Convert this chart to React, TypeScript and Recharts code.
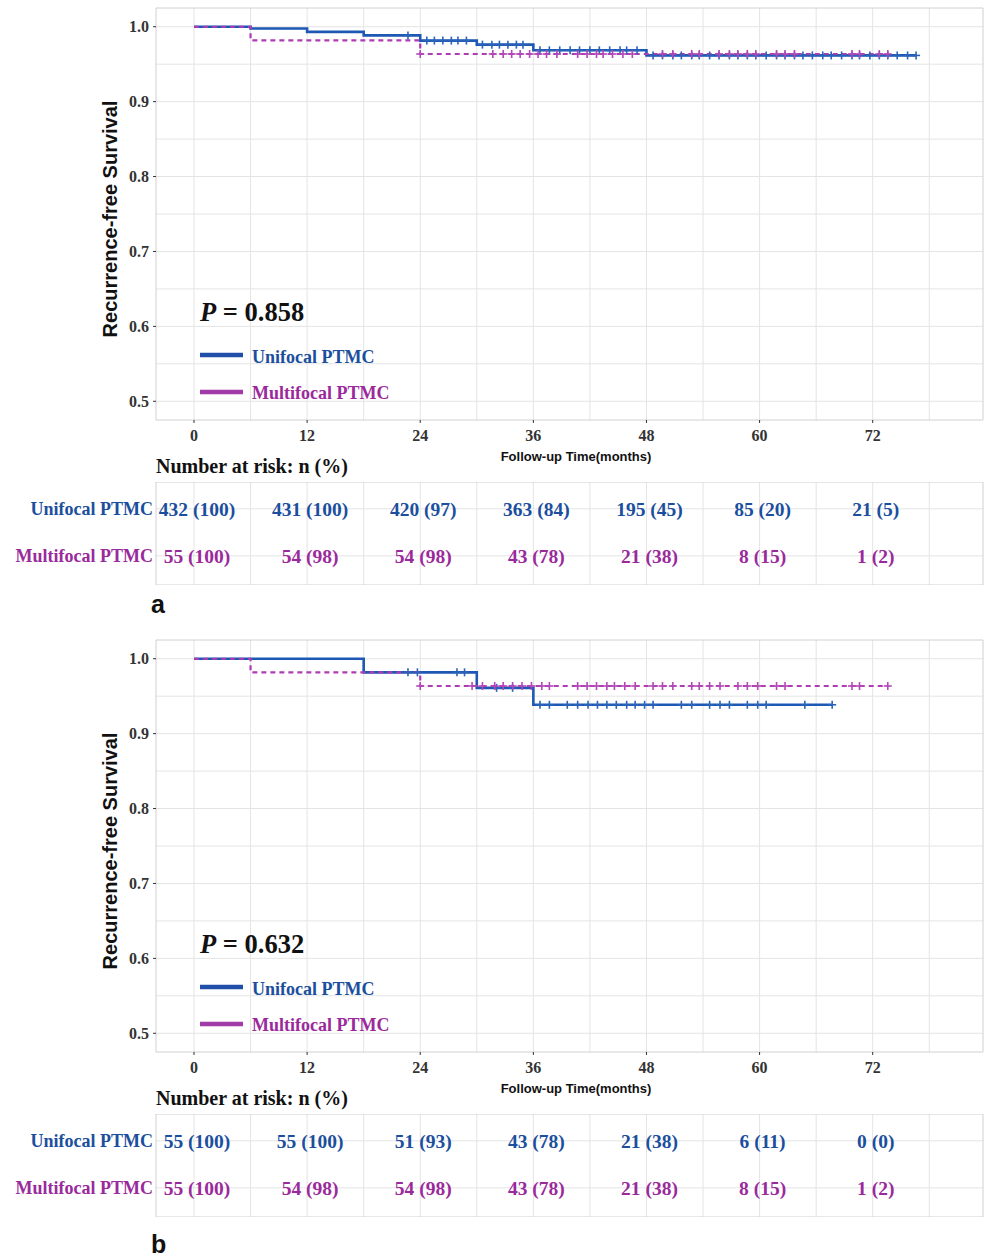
import React from "react";
import {
  ComposedChart,
  Line,
  Scatter,
  XAxis,
  YAxis,
  CartesianGrid,
  ReferenceArea,
} from "recharts";

// ---------- shared ----------
const monthTicks = [0, 12, 24, 36, 48, 60, 72];
const monthGrid = [0, 6, 12, 18, 24, 30, 36, 42, 48, 54, 60, 66, 72, 78];
const survTicks = [0.5, 0.6, 0.7, 0.8, 0.9, 1.0];
const survGrid = [0.5, 0.55, 0.6, 0.65, 0.7, 0.75, 0.8, 0.85, 0.9, 0.95, 1.0];
const groupNames = ["Unifocal PTMC", "Multifocal PTMC"];

// ---------- panel a ----------
const aUniTimes = [0, 6, 12, 18, 24, 30, 36, 48, 76.6];
const aUniSurv = [1, 0.9977, 0.9931, 0.9884, 0.9815, 0.9761, 0.9685, 0.9617, 0.9617];
const aUniCensor = [
  22.7, 24.7, 25.5, 26.4, 27.3, 28.0, 28.9, 30.6, 31.6, 32.4, 33.3, 34.2, 34.9,
  36.7, 37.7, 38.8, 39.9, 40.9, 42.0, 43.0, 44.1, 45.2, 45.9, 47.0,
  48.7, 49.7, 50.8, 51.7, 52.8, 53.6, 54.7, 55.7, 56.8, 57.7, 58.7, 59.6, 60.7,
  61.8, 62.7, 63.7, 64.6, 65.6, 66.7, 67.6, 68.7, 69.8, 70.6, 71.7, 72.7, 73.6,
  74.6, 75.7, 76.6,
];
const aMultiTimes = [0, 6, 24, 73.6];
const aMultiSurv = [1, 0.9818, 0.9636, 0.9636];
const aMultiCensor = [
  24.0, 31.7, 32.8, 33.7, 34.6, 35.6, 36.5, 37.4, 38.5, 40.7, 41.7, 42.7, 43.4,
  44.4, 45.5, 46.5, 49.7, 50.8, 52.8, 53.6, 55.7, 56.8, 57.7, 58.7, 59.6, 61.8,
  62.7, 63.7, 69.8, 70.6, 72.7, 73.6,
];
const aRiskUni = ["432 (100)", "431 (100)", "420 (97)", "363 (84)", "195 (45)", "85 (20)", "21 (5)"];
const aRiskMulti = ["55 (100)", "54 (98)", "54 (98)", "43 (78)", "21 (38)", "8 (15)", "1 (2)"];
const aPValue = "0.858";

// ---------- panel b ----------
const bUniTimes = [0, 18, 30, 36, 67.7];
const bUniSurv = [1, 0.9818, 0.9611, 0.9385, 0.9385];
const bUniCensor = [
  22.7, 23.7, 27.9, 28.7, 32.1, 33.8, 36.7, 37.7, 39.6, 40.7, 41.8, 42.8, 43.8,
  44.8, 45.9, 46.8, 47.8, 48.7, 51.7, 52.8, 54.7, 55.8, 56.8, 58.7, 59.8, 60.7,
  64.8, 67.7,
];
const bMultiTimes = [0, 6, 24, 73.6];
const bMultiSurv = [1, 0.9818, 0.9636, 0.9636];
const bMultiCensor = [
  24.0, 29.5, 30.6, 31.9, 32.8, 33.8, 34.8, 35.8, 36.9, 37.7, 40.7, 41.7, 42.7,
  43.8, 44.6, 45.7, 46.8, 48.7, 49.7, 50.8, 52.8, 53.6, 54.7, 55.8, 57.7, 58.7,
  59.8, 61.8, 62.7, 69.8, 70.6, 73.6,
];
const bRiskUni = ["55 (100)", "55 (100)", "51 (93)", "43 (78)", "21 (38)", "6 (11)", "0 (0)"];
const bRiskMulti = ["55 (100)", "54 (98)", "54 (98)", "43 (78)", "21 (38)", "8 (15)", "1 (2)"];
const bPValue = "0.632";

// ---------- styles ----------
const BLUE_LINE = "#1d58b4";
const MAG_LINE = "#b03cb4";
const BLUE_TXT = "#1b4f9e";
const MAG_TXT = "#9a2a9c";
const GRID = "#e4e4e4";
const SERIF = "'Liberation Serif', 'Times New Roman', serif";
const SANS = "'Liberation Sans', Arial, sans-serif";

const X_DOMAIN: [number, number] = [-4.03, 83.7];
const Y_DOMAIN: [number, number] = [0.475, 1.025];
const R_DOMAIN: [number, number] = [0.38, 2.57];

function stepData(times: number[], surv: number[]) {
  return times.map((t, i) => ({ t, s: surv[i] }));
}
function survAt(times: number[], surv: number[], t: number) {
  let v = surv[0];
  for (let i = 0; i < times.length; i++) if (times[i] <= t) v = surv[i];
  return v;
}
function censorData(times: number[], surv: number[], cens: number[]) {
  return cens.map((t) => ({ t, s: survAt(times, surv, t) }));
}

const PlusShape = (color: string) => (props: any) => {
  const { cx, cy } = props;
  if (cx == null || cy == null) return null;
  return (
    <g stroke={color} strokeWidth={1.6}>
      <line x1={cx - 4} x2={cx + 4} y1={cy} y2={cy} />
      <line x1={cx} x2={cx} y1={cy - 4} y2={cy + 4} />
    </g>
  );
};

const XTick = (props: any) => {
  const { x, y, payload } = props;
  return (
    <text x={x} y={y + 16} textAnchor="middle" fontFamily={SERIF} fontWeight="bold" fontSize={16} fill="#333">
      {payload.value}
    </text>
  );
};
const YTick = (props: any) => {
  const { x, y, payload } = props;
  return (
    <text x={x - 2} y={y} dy="0.35em" textAnchor="end" fontFamily={SERIF} fontWeight="bold" fontSize={16} fill="#333">
      {Number(payload.value).toFixed(1)}
    </text>
  );
};

const RiskTick = (props: any) => {
  const { x, y, payload } = props;
  const idx = payload.value === 2 ? 0 : 1;
  return (
    <text x={x + 5} y={y} dy="0.35em" textAnchor="end" fontFamily={SERIF} fontWeight="bold" fontSize={18} fill={idx === 0 ? BLUE_TXT : MAG_TXT}>
      {groupNames[idx]}
    </text>
  );
};

const RiskText = (color: string) => (props: any) => {
  const { cx, cy, payload } = props;
  if (cx == null || cy == null) return null;
  return (
    <text x={cx + 3} y={cy} dy="0.35em" textAnchor="middle" fontFamily={SERIF} fontWeight="bold" fontSize={19.5} fill={color}>
      {payload.label}
    </text>
  );
};

type PanelProps = {
  top: number;
  uniTimes: number[];
  uniSurv: number[];
  uniCensor: number[];
  multiTimes: number[];
  multiSurv: number[];
  multiCensor: number[];
  riskUni: string[];
  riskMulti: string[];
  pValue: string;
  letter: string;
  letterTop: number;
};

function Panel(p: PanelProps) {
  const uniLine = stepData(p.uniTimes, p.uniSurv);
  const multiLine = stepData(p.multiTimes, p.multiSurv);
  const uniC = censorData(p.uniTimes, p.uniSurv, p.uniCensor);
  const multiC = censorData(p.multiTimes, p.multiSurv, p.multiCensor);
  const riskU = monthTicks.map((t, i) => ({ t, r: 2, label: p.riskUni[i] }));
  const riskM = monthTicks.map((t, i) => ({ t, r: 1, label: p.riskMulti[i] }));

  return (
    <div style={{ position: "absolute", left: 0, top: p.top, width: 986, height: 626 }}>
      {/* survival plot */}
      <div style={{ position: "absolute", left: 0, top: 0 }}>
        <ComposedChart width={986} height={467} margin={{ top: 8, right: 3, bottom: 0, left: 0 }}>
          <CartesianGrid stroke={GRID} horizontalValues={survGrid} verticalValues={monthGrid} />
          <ReferenceArea x1={X_DOMAIN[0]} x2={X_DOMAIN[1]} y1={Y_DOMAIN[0]} y2={Y_DOMAIN[1]} fill="none" stroke="#d0d0d0" strokeWidth={1} />
          <XAxis
            type="number"
            dataKey="t"
            domain={X_DOMAIN}
            ticks={monthTicks}
            allowDataOverflow
            axisLine={false}
            tickLine={{ stroke: "#333" }}
            tickSize={3}
            height={47}
            tick={<XTick />}
            interval={0}
          />
          <YAxis
            type="number"
            dataKey="s"
            domain={Y_DOMAIN}
            ticks={survTicks}
            allowDataOverflow
            axisLine={false}
            tickLine={{ stroke: "#333" }}
            tickSize={3}
            width={156}
            tick={<YTick />}
            interval={0}
          />
          <Line data={uniLine} dataKey="s" type="stepAfter" stroke={BLUE_LINE} strokeWidth={2.6} dot={false} isAnimationActive={false} />
          <Line data={multiLine} dataKey="s" type="stepAfter" stroke={MAG_LINE} strokeWidth={2.2} strokeDasharray="5 4" dot={false} isAnimationActive={false} />
          <Scatter data={uniC} dataKey="s" shape={PlusShape("#2a64b8")} isAnimationActive={false} />
          <Scatter data={multiC} dataKey="s" shape={PlusShape("#b347b8")} isAnimationActive={false} />
        </ComposedChart>
      </div>

      {/* annotations */}
      <svg style={{ position: "absolute", left: 0, top: 0 }} width={986} height={480}>
        <text x={110} y={219} transform="rotate(-90 110 219)" textAnchor="middle" dominantBaseline="central" fontFamily={SANS} fontWeight="bold" fontSize={20} fill="#111">
          Recurrence-free Survival
        </text>
        <text x={200} y={321} fontFamily={SERIF} fontWeight="bold" fontSize={26.5} fill="#111">
          <tspan fontStyle="italic">P</tspan> = {p.pValue}
        </text>
        <line x1={200} x2={243} y1={355} y2={355} stroke="#1f4fa8" strokeWidth={4.5} />
        <text x={252} y={357} dominantBaseline="central" fontFamily={SERIF} fontWeight="bold" fontSize={18} fill={BLUE_TXT}>
          {groupNames[0]}
        </text>
        <line x1={200} x2={243} y1={392} y2={392} stroke="#a23aa8" strokeWidth={4.5} />
        <text x={252} y={393} dominantBaseline="central" fontFamily={SERIF} fontWeight="bold" fontSize={18} fill={MAG_TXT}>
          {groupNames[1]}
        </text>
        <text x={576} y={456} textAnchor="middle" dominantBaseline="central" fontFamily={SANS} fontWeight="bold" fontSize={13} fill="#111">
          Follow-up Time(months)
        </text>
        <text x={156} y={473} fontFamily={SERIF} fontWeight="bold" fontSize={20} fill="#111">
          Number at risk: n (%)
        </text>
      </svg>

      {/* risk table */}
      <div style={{ position: "absolute", left: 0, top: 482 }}>
        <ComposedChart width={986} height={103} margin={{ top: 0, right: 3, bottom: 0, left: 0 }}>
          <CartesianGrid stroke={GRID} horizontalValues={[1, 2]} verticalValues={monthGrid} />
          <ReferenceArea x1={X_DOMAIN[0]} x2={X_DOMAIN[1]} y1={R_DOMAIN[0]} y2={R_DOMAIN[1]} fill="none" stroke="#d0d0d0" strokeWidth={1} />
          <XAxis type="number" dataKey="t" domain={X_DOMAIN} ticks={monthTicks} allowDataOverflow hide />
          <YAxis
            type="number"
            dataKey="r"
            domain={R_DOMAIN}
            ticks={[1, 2]}
            allowDataOverflow
            axisLine={false}
            tickLine={false}
            width={156}
            tick={<RiskTick />}
            interval={0}
          />
          <Scatter data={riskU} dataKey="r" shape={RiskText(BLUE_TXT)} isAnimationActive={false} />
          <Scatter data={riskM} dataKey="r" shape={RiskText(MAG_TXT)} isAnimationActive={false} />
        </ComposedChart>
      </div>

      <svg style={{ position: "absolute", left: 0, top: 0 }} width={986} height={626} pointerEvents="none">
        <text x={151} y={p.letterTop} fontFamily={SANS} fontWeight="bold" fontSize={25} fill="#111">
          {p.letter}
        </text>
      </svg>
    </div>
  );
}

export default function App() {
  return (
    <div style={{ position: "absolute", left: 0, top: 0, width: 986, height: 1258, background: "#fff", overflow: "hidden" }}>
      <Panel
        top={0}
        uniTimes={aUniTimes}
        uniSurv={aUniSurv}
        uniCensor={aUniCensor}
        multiTimes={aMultiTimes}
        multiSurv={aMultiSurv}
        multiCensor={aMultiCensor}
        riskUni={aRiskUni}
        riskMulti={aRiskMulti}
        pValue={aPValue}
        letter="a"
        letterTop={613}
      />
      <Panel
        top={632}
        uniTimes={bUniTimes}
        uniSurv={bUniSurv}
        uniCensor={bUniCensor}
        multiTimes={bMultiTimes}
        multiSurv={bMultiSurv}
        multiCensor={bMultiCensor}
        riskUni={bRiskUni}
        riskMulti={bRiskMulti}
        pValue={bPValue}
        letter="b"
        letterTop={621}
      />
    </div>
  );
}
